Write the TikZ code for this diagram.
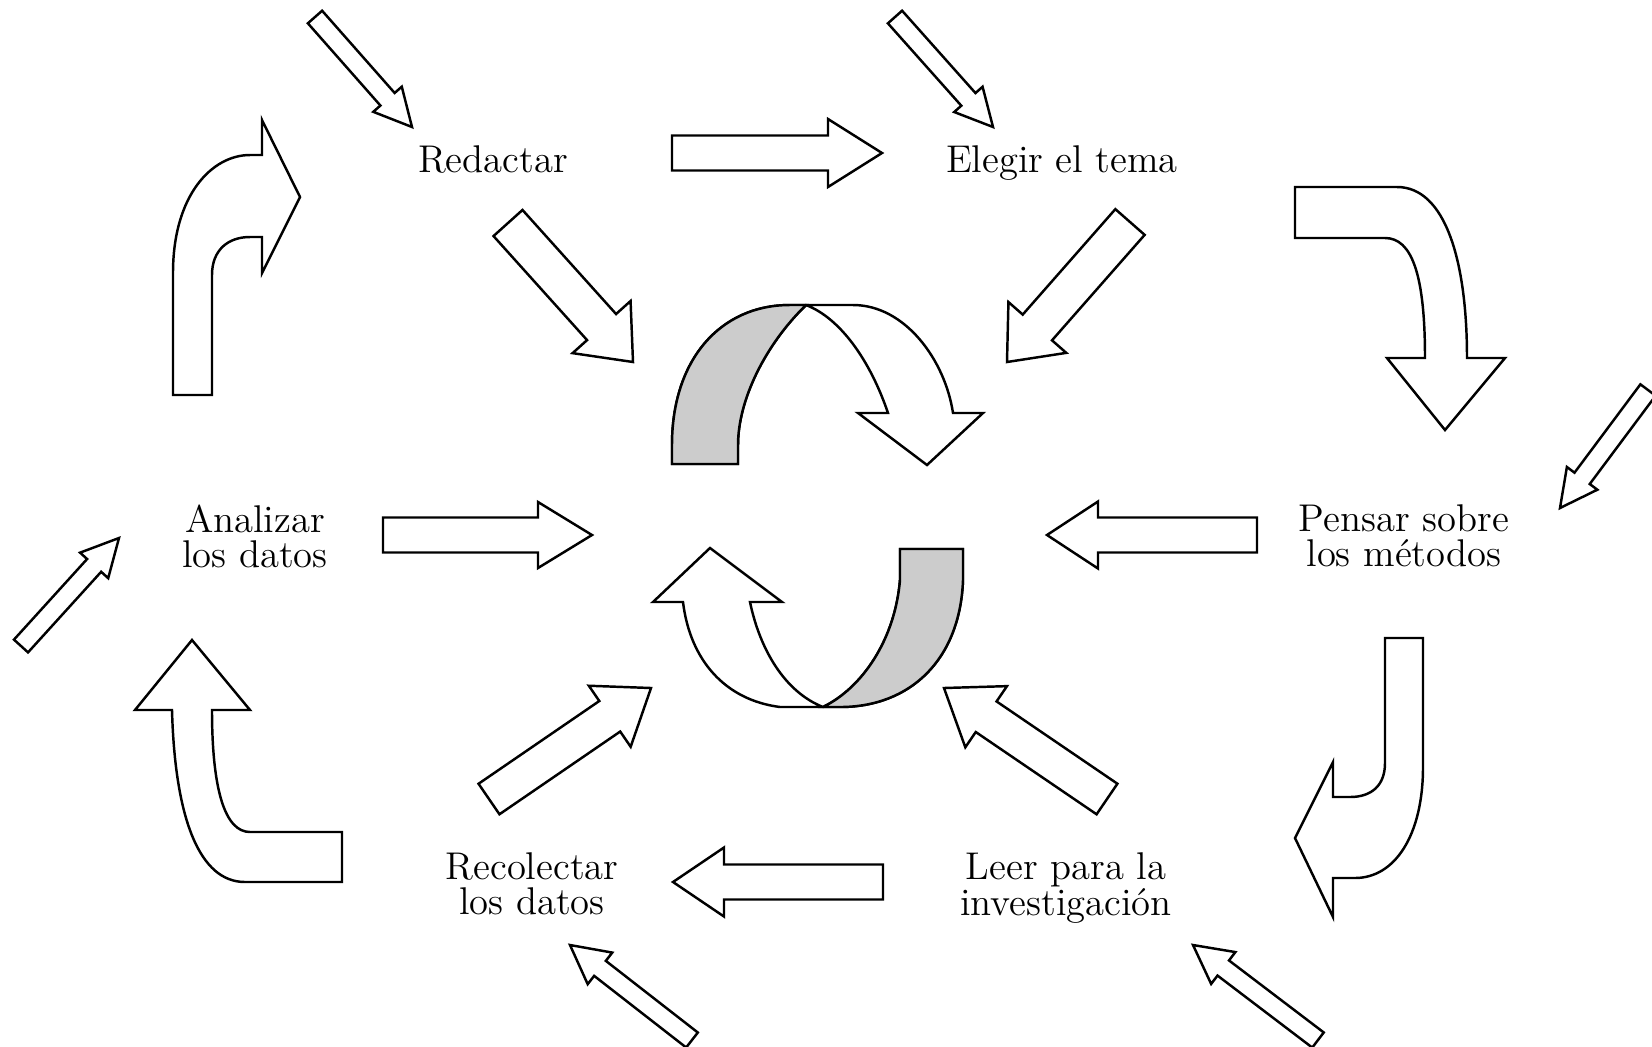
\documentclass[tikz,border=0pt]{standalone}
\usepackage{fontspec}
\usetikzlibrary{calc}
\tikzset{
  blockarrow/.style={draw, line width=0.7pt, fill=white},
  ringback/.style={blockarrow, fill=gray!40},
  stage/.style={inner sep=0pt, align=center, font=\fontsize{11}{10}\selectfont}
}
% #1 tail, #2 tip, #3 half shaft, #4 half head, #5 head length
\newcommand{\blockarrow}[5]{%
  \coordinate (hb) at ($(#2)!#5!(#1)$);
  \draw[blockarrow]
    ($(#1)!#3!90:(#2)$) -- ($(hb)!#3!90:(#2)$) -- ($(hb)!#4!90:(#2)$)
    -- (#2) -- ($(hb)!#4!-90:(#2)$) -- ($(hb)!#3!-90:(#2)$)
    -- ($(#1)!#3!-90:(#2)$) -- cycle;
}

\begin{document}
\begin{tikzpicture}[x=0.1mm,y=-0.1mm]
  \useasboundingbox (0,0) rectangle (1652,1046);
  %
  % Labels
  \node[stage,anchor=base] (redactar) at (493,172) {Redactar};
  \node[stage,anchor=base] (tema) at (1062,172) {Elegir el tema};
  \node[stage] (analizar) at (255,536) {Analizar\\los datos};
  \node[stage] (metodos) at (1404,536) {Pensar sobre\\los métodos};
  \node[stage] (recolectar) at (532,884) {Recolectar\\los datos};
  \node[stage] (leer) at (1066,888) {Leer para la\\investigación};
  %
  % Small arrows coming in from outside
  \blockarrow{315,17}{412,127}{0.95mm}{1.9mm}{3.7mm}
  \blockarrow{895,17}{993,127}{0.95mm}{1.9mm}{3.7mm}
  \blockarrow{1648,390}{1560,508}{0.95mm}{1.9mm}{3.7mm}
  \blockarrow{21,646}{119,538}{0.95mm}{1.9mm}{3.7mm}
  \blockarrow{692,1040}{570,945}{0.95mm}{2mm}{3.8mm}
  \blockarrow{1318,1040}{1193,945}{0.95mm}{2mm}{3.8mm}
  %
  % Arrows between the stages
  \blockarrow{672,153}{882,153}{1.75mm}{3.4mm}{5.4mm}
  \blockarrow{883,882}{673,882}{1.75mm}{3.45mm}{5.1mm}
  %
  % Arrows into the centre
  \blockarrow{508,223}{633,362}{1.95mm}{3.9mm}{4.7mm}
  \blockarrow{1130,222}{1007,362}{1.95mm}{3.85mm}{4.6mm}
  \blockarrow{383,535}{592,535}{1.75mm}{3.3mm}{5.4mm}
  \blockarrow{1257,535}{1047,535}{1.75mm}{3.35mm}{5.1mm}
  \blockarrow{489,799}{651,688}{1.85mm}{3.7mm}{5mm}
  \blockarrow{1107,799}{944,688}{1.85mm}{3.7mm}{5.1mm}
  %
  % Curved arrows in the corners
  \draw[blockarrow] (173,395) -- (173,273) .. controls (173,195) and (212,155) .. (250,155)
    -- (262,155) -- (262,120) -- (300,197) -- (262,273) -- (262,237) -- (250,237)
    .. controls (228,237) and (212,250) .. (212,275) -- (212,395) -- cycle;
  \draw[blockarrow] (1295,187) -- (1397,187) .. controls (1445,187) and (1467,260) .. (1467,358)
    -- (1505,358) -- (1445,430) -- (1387,358) -- (1425,358)
    .. controls (1425,275) and (1412,238) .. (1385,238) -- (1295,238) -- cycle;
  \draw[blockarrow] (1385,638) -- (1423,638) -- (1423,767) .. controls (1423,835) and (1395,878) .. (1355,878)
    -- (1333,878) -- (1333,917) -- (1295,838) -- (1333,762) -- (1333,797) -- (1350,797)
    .. controls (1372,797) and (1385,785) .. (1385,763) -- cycle;
  \draw[blockarrow] (342,882) -- (245,882) .. controls (200,882) and (175,820) .. (172,710)
    -- (135,710) -- (192,640) -- (250,710) -- (212,710)
    .. controls (212,790) and (225,832) .. (250,832) -- (342,832) -- cycle;
  %
  % Ring in the centre
  \draw[blockarrow] (672,464) -- (672,445) .. controls (672,360) and (720,305) .. (790,305)
    -- (853,305) .. controls (905,305) and (945,360) .. (953,413)
    -- (983,413) -- (927,465) -- (858,413) -- (888,413)
    .. controls (870,360) and (840,318) .. (806,305)
    .. controls (765,345) and (738,400) .. (738,445) -- (738,464) -- cycle;
  \draw[ringback] (672,464) -- (672,445) .. controls (672,360) and (720,305) .. (790,305)
    -- (806,305) .. controls (765,345) and (738,400) .. (738,445) -- (738,464) -- cycle;
  \draw[blockarrow] (900,549) -- (963,549) -- (963,580) .. controls (960,660) and (910,707) .. (840,707)
    -- (780,707) .. controls (725,700) and (690,660) .. (683,602)
    -- (653,602) -- (710,548) -- (782,602) -- (750,602)
    .. controls (760,650) and (785,692) .. (823,707)
    .. controls (862,688) and (895,640) .. (900,580) -- cycle;
  \draw[ringback] (900,549) -- (963,549) -- (963,580) .. controls (960,660) and (910,707) .. (840,707)
    -- (823,707) .. controls (862,688) and (895,640) .. (900,580) -- cycle;
  %
\end{tikzpicture}
\end{document}
